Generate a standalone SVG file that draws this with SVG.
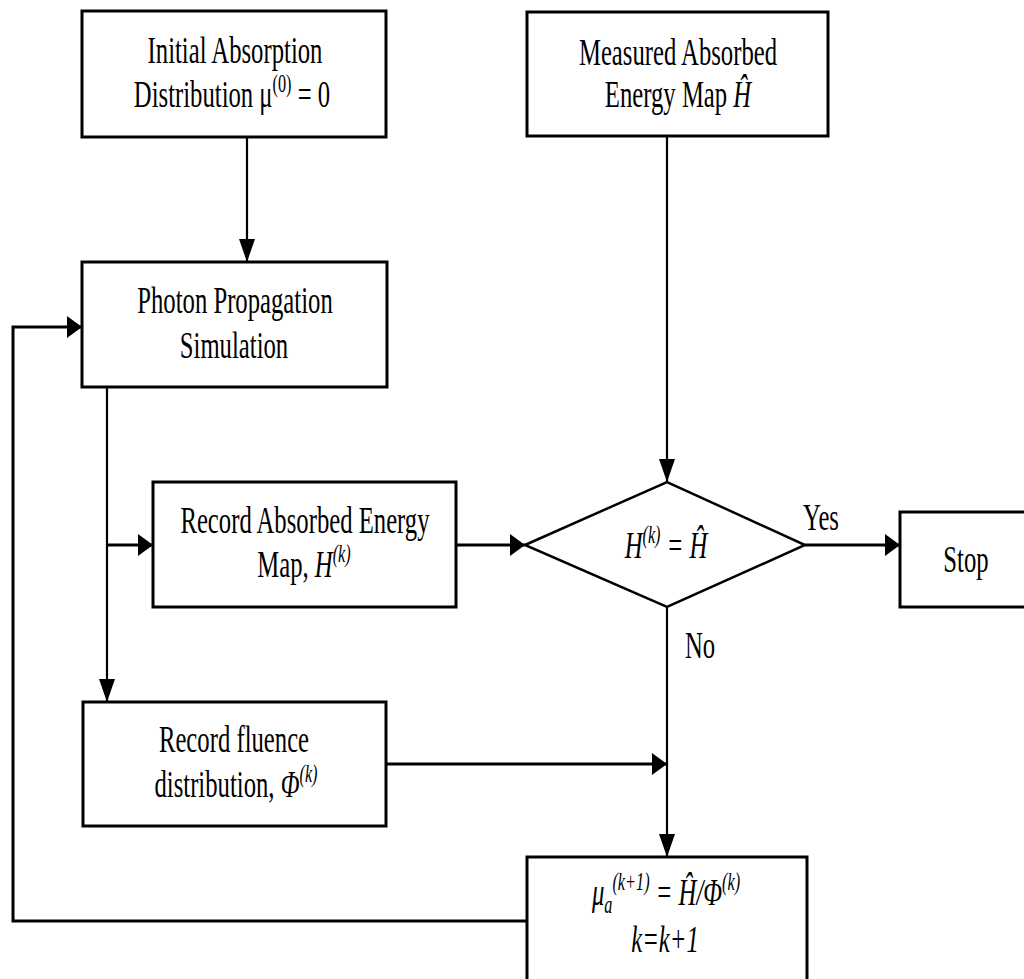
<svg xmlns="http://www.w3.org/2000/svg" width="1024" height="979" viewBox="0 0 1024 979">
<style>
.box{fill:#fff;stroke:#000;stroke-width:3}
.c{fill:none;stroke:#000}
.v{stroke-width:2.2}
.h{stroke-width:3}
text{font-family:"Liberation Serif","Times New Roman",serif;font-size:38px;fill:#000;text-anchor:middle}
.it{font-style:italic}
.sup{font-size:25px}
</style>
<defs>
<marker id="ah" markerUnits="userSpaceOnUse" markerWidth="16" markerHeight="22" refX="15" refY="11" orient="auto"><path d="M0,0 L15,11 L0,22 Z" fill="#000"/></marker>
<marker id="av" markerUnits="userSpaceOnUse" markerWidth="24" markerHeight="16" refX="23" refY="8" orient="auto"><path d="M0,0 L23,8 L0,16 Z" fill="#000"/></marker>
</defs>
<rect width="1024" height="979" fill="#fff"/>
<g id="connectors">
<line class="c v" x1="247" y1="137" x2="247" y2="262" marker-end="url(#av)"/>
<line class="c v" x1="667" y1="136" x2="667" y2="482" marker-end="url(#av)"/>
<line class="c v" x1="107" y1="387" x2="107" y2="702" marker-end="url(#av)"/>
<line class="c h" x1="107" y1="545" x2="153" y2="545" marker-end="url(#ah)"/>
<line class="c h" x1="456" y1="545" x2="525" y2="545" marker-end="url(#ah)"/>
<line class="c h" x1="805" y1="545" x2="900" y2="545" marker-end="url(#ah)"/>
<line class="c v" x1="667" y1="607" x2="667" y2="857" marker-end="url(#av)"/>
<line class="c h" x1="386" y1="764" x2="667" y2="764" marker-end="url(#ah)"/>
<polyline class="c h" points="527,921 13,921 13,327 82,327" marker-end="url(#ah)"/>
<text transform="translate(821,530) scale(0.65,1)">Yes</text>
<text transform="translate(700,658) scale(0.65,1)">No</text>
</g>
<g id="init">
<rect class="box" x="82" y="11" width="304" height="126"/>
<text transform="translate(235,63) scale(0.65,1)">Initial Absorption</text>
<text transform="translate(232,107) scale(0.65,1)">Distribution μ<tspan class="sup" dy="-15">(0)</tspan><tspan dy="15"> = 0</tspan></text>
</g>
<g id="measured">
<rect class="box" x="527" y="12" width="301" height="124"/>
<text transform="translate(678,65) scale(0.65,1)">Measured Absorbed</text>
<text transform="translate(678,107) scale(0.65,1)">Energy Map <tspan class="it">Ĥ</tspan></text>
</g>
<g id="photon">
<rect class="box" x="82" y="262" width="305" height="125"/>
<text transform="translate(235,313) scale(0.65,1)">Photon Propagation</text>
<text transform="translate(234,358) scale(0.65,1)">Simulation</text>
</g>
<g id="recordH">
<rect class="box" x="153" y="482" width="303" height="125"/>
<text transform="translate(305,533) scale(0.65,1)">Record Absorbed Energy</text>
<text transform="translate(304,577) scale(0.65,1)">Map, <tspan class="it">H</tspan><tspan class="it sup" dy="-15">(k)</tspan></text>
</g>
<g id="decision">
<polygon class="box" style="stroke-width:2.5" points="525,545 667,482 805,545 667,607"/>
<text class="it" transform="translate(666,558) scale(0.65,1)">H<tspan class="sup" dy="-15">(k)</tspan><tspan dy="15"> = Ĥ</tspan></text>
</g>
<g id="stop">
<rect class="box" x="900" y="512" width="140" height="95"/>
<text transform="translate(966,572) scale(0.65,1)">Stop</text>
</g>
<g id="fluence">
<rect class="box" x="83" y="702" width="303" height="124"/>
<text transform="translate(234,752) scale(0.65,1)">Record fluence</text>
<text transform="translate(236,797) scale(0.65,1)">distribution, <tspan class="it">Φ</tspan><tspan class="it sup" dy="-15">(k)</tspan></text>
</g>
<g id="update">
<rect class="box" x="527" y="857" width="280" height="140"/>
<text class="it" transform="translate(666,905) scale(0.65,1)">μ<tspan class="sup" dy="8">a</tspan><tspan class="sup" dy="-23">(k+1)</tspan><tspan dy="15"> = Ĥ/Φ</tspan><tspan class="sup" dy="-15">(k)</tspan></text>
<text class="it" transform="translate(665,952) scale(0.65,1)">k=k+1</text>
</g>
</svg>
